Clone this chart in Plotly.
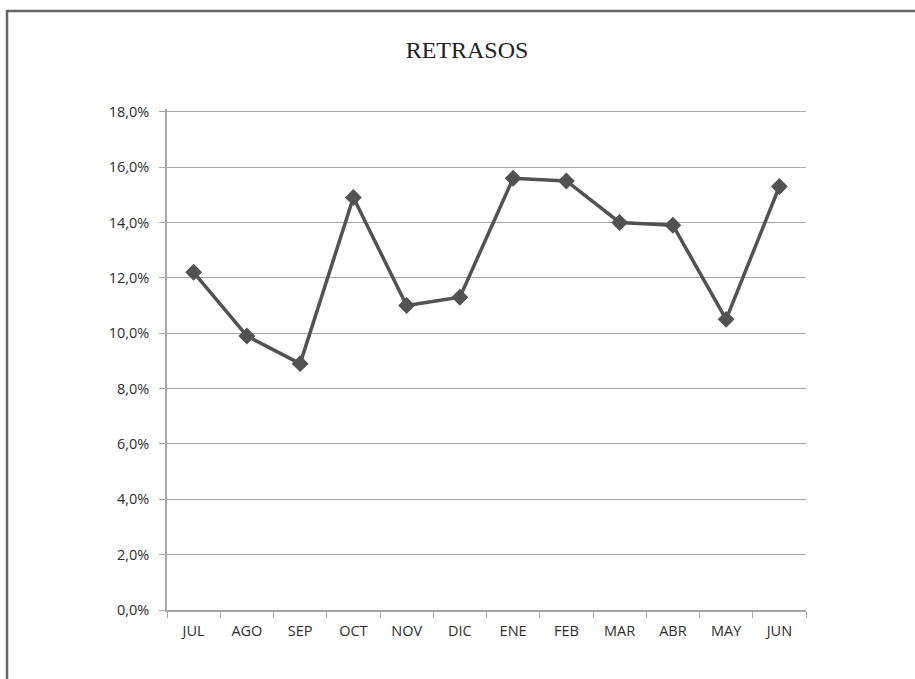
import plotly.graph_objects as go

# Monthly share of delays (percent)
meses = ["JUL", "AGO", "SEP", "OCT", "NOV", "DIC", "ENE", "FEB", "MAR", "ABR", "MAY", "JUN"]
retrasos = [12.2, 9.9, 8.9, 14.9, 11.0, 11.3, 15.6, 15.5, 14.0, 13.9, 10.5, 15.3]
y_ticks = [0, 2, 4, 6, 8, 10, 12, 14, 16, 18]
y_labels = [f"{v:.1f}%".replace(".", ",") for v in y_ticks]
y_max = 18.1

W, H = 915, 679
ML, MR, MT, MB = 167, 109, 109, 69
pw, ph = W - ML - MR, H - MT - MB

fig = go.Figure(
    go.Scatter(
        x=meses,
        y=retrasos,
        mode="lines+markers",
        line=dict(color="#525252", width=3.5),
        marker=dict(symbol="diamond", size=13, color="#525252"),
        cliponaxis=False,
    )
)

tick_font = dict(family="Open Sans, Noto Sans, sans-serif", size=14.5, color="#2e2e2e")

fig.update_layout(
    width=W,
    height=H,
    margin=dict(l=ML, r=MR, t=MT, b=MB),
    paper_bgcolor="white",
    plot_bgcolor="white",
    showlegend=False,
    title=dict(
        text="RETRASOS",
        font=dict(family="Liberation Serif, Times New Roman, serif", size=24, color="#222222"),
        x=(467 - ML) / pw,
        xref="paper",
        xanchor="center",
        y=1 - 50 / H,
        yref="container",
        yanchor="middle",
    ),
    xaxis=dict(
        type="category",
        showgrid=False,
        showline=True,
        linecolor="#a6a6a6",
        linewidth=1.5,
        ticks="outside",
        tickson="boundaries",
        ticklen=6,
        tickcolor="#a6a6a6",
        tickfont=tick_font,
        ticklabelstandoff=7,
        range=[-0.5, len(meses) - 0.5],
    ),
    yaxis=dict(
        range=[0, y_max],
        tickvals=y_ticks,
        ticktext=y_labels,
        showgrid=True,
        gridcolor="#a6a6a6",
        gridwidth=1.2,
        showline=True,
        linecolor="#a6a6a6",
        linewidth=1.5,
        ticks="outside",
        ticklen=6,
        tickcolor="#a6a6a6",
        tickfont=tick_font,
        ticklabelstandoff=7,
        zeroline=False,
    ),
)

# Outer frame around the chart area
fig.add_shape(
    type="rect",
    xref="paper",
    yref="paper",
    x0=(7 - ML) / pw,
    x1=(W + 10 - ML) / pw,
    y0=1 + (MT - 11) / ph,
    y1=-(MB + 10) / ph,
    line=dict(color="#666666", width=2.5),
    fillcolor="rgba(0,0,0,0)",
    layer="above",
)

fig.write_html("out.html")
